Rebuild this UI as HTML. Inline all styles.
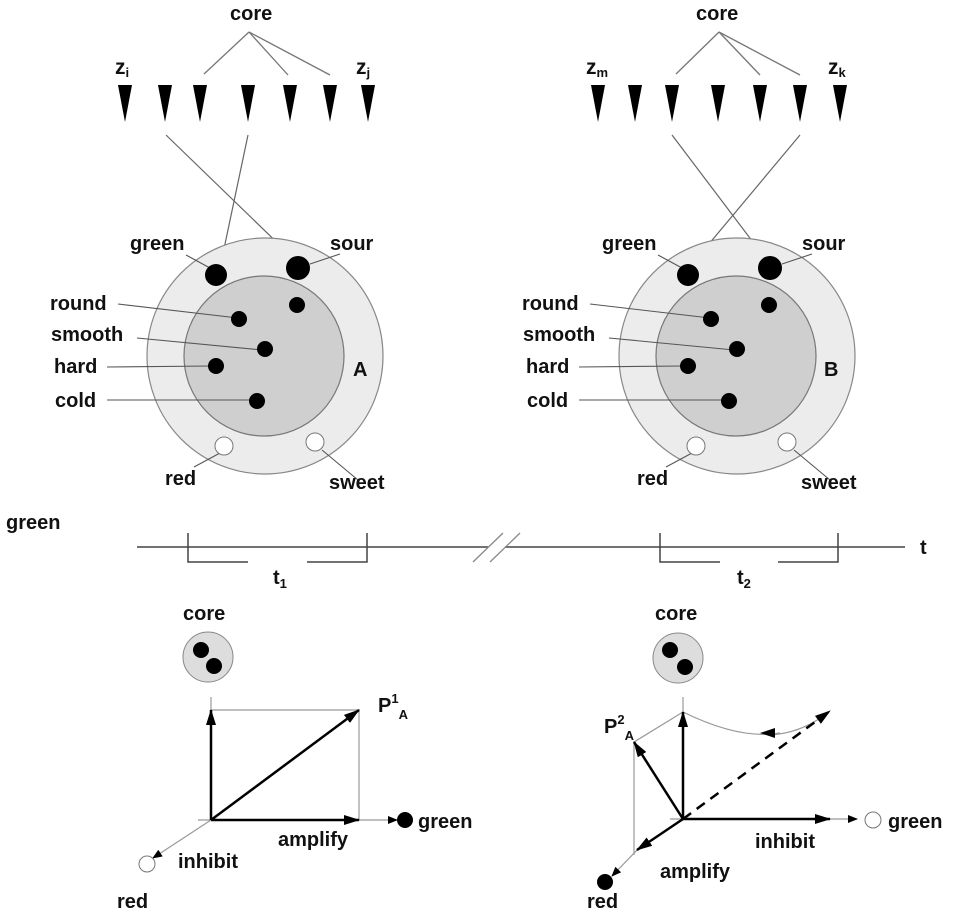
<!DOCTYPE html>
<html><head><meta charset="utf-8"><style>
html,body{margin:0;padding:0;background:#fff}
svg text{font-family:"Liberation Sans",sans-serif;font-weight:bold;fill:#111}
</style></head><body>
<svg width="957" height="916" viewBox="0 0 957 916" xmlns="http://www.w3.org/2000/svg">
<defs>
<marker id="ab" markerWidth="10" markerHeight="8" refX="9" refY="4" orient="auto" markerUnits="userSpaceOnUse" viewBox="0 0 10 8"><path d="M0,0 L10,4 L0,8 Z" fill="#000"/></marker>
<marker id="abl" markerWidth="16" markerHeight="10" refX="15" refY="5" orient="auto" markerUnits="userSpaceOnUse" viewBox="0 0 16 10"><path d="M0,0 L16,5 L0,10 Z" fill="#000"/></marker>
</defs>
<g id="L">
<!-- top -->
<text x="230" y="20" font-size="20">core</text>
<g stroke="#777" stroke-width="1.3" fill="none">
<line x1="249" y1="32" x2="204" y2="74"/><line x1="249" y1="32" x2="288" y2="75"/><line x1="249" y1="32" x2="330" y2="75"/>
</g>
<g fill="#000">
<polygon points="118,85 132,85 125,122"/><polygon points="158,85 172,85 165,122"/><polygon points="193,85 207,85 200,122"/><polygon points="241,85 255,85 248,122"/><polygon points="283,85 297,85 290,122"/><polygon points="323,85 337,85 330,122"/><polygon points="361,85 375,85 368,122"/>
</g>
<text x="115" y="74" font-size="21">z<tspan font-size="13" dy="3">i</tspan></text>
<text x="356" y="74" font-size="21">z<tspan font-size="13" dy="3">j</tspan></text>
<g stroke="#666" stroke-width="1.2">
<line x1="166" y1="135" x2="293" y2="258"/><line x1="248" y1="135" x2="221" y2="263"/>
</g>
<circle cx="265" cy="356" r="118" fill="#ececec" stroke="#888" stroke-width="1.2"/>
<circle cx="264" cy="356" r="80" fill="#cfcfcf" stroke="#777" stroke-width="1.2"/>
<g stroke="#555" stroke-width="1.1">
<line x1="186" y1="255" x2="210" y2="268"/><line x1="310" y1="264" x2="340" y2="254"/>
<line x1="118" y1="304" x2="238" y2="318"/><line x1="137" y1="338" x2="262" y2="350"/>
<line x1="107" y1="367" x2="212" y2="366"/><line x1="107" y1="400" x2="252" y2="400"/>
<line x1="194" y1="467" x2="220" y2="453"/><line x1="358" y1="480" x2="322" y2="450"/>
</g>
<circle cx="216" cy="275" r="11" fill="#000"/><circle cx="298" cy="268" r="12" fill="#000"/>
<circle cx="297" cy="305" r="8" fill="#000"/><circle cx="239" cy="319" r="8" fill="#000"/>
<circle cx="265" cy="349" r="8" fill="#000"/><circle cx="216" cy="366" r="8" fill="#000"/>
<circle cx="257" cy="401" r="8" fill="#000"/>
<circle cx="224" cy="446" r="9" fill="#fff" stroke="#777"/><circle cx="315" cy="442" r="9" fill="#fff" stroke="#777"/>
<text x="130" y="250" font-size="20">green</text><text x="330" y="250" font-size="20">sour</text>
<text x="50" y="310" font-size="20">round</text><text x="51" y="341" font-size="20">smooth</text>
<text x="54" y="373" font-size="20">hard</text><text x="55" y="407" font-size="20">cold</text>
<text x="165" y="485" font-size="20">red</text><text x="329" y="489" font-size="20">sweet</text>
</g>
<text x="353" y="376" font-size="20">A</text>
<!-- right top -->
<text x="696" y="20" font-size="20">core</text>
<g stroke="#777" stroke-width="1.3" fill="none">
<line x1="719" y1="32" x2="676" y2="74"/><line x1="719" y1="32" x2="760" y2="75"/><line x1="719" y1="32" x2="800" y2="75"/>
</g>
<g fill="#000">
<polygon points="591,85 605,85 598,122"/><polygon points="628,85 642,85 635,122"/><polygon points="665,85 679,85 672,122"/><polygon points="711,85 725,85 718,122"/><polygon points="753,85 767,85 760,122"/><polygon points="793,85 807,85 800,122"/><polygon points="833,85 847,85 840,122"/>
</g>
<text x="586" y="74" font-size="21">z<tspan font-size="13" dy="3">m</tspan></text>
<text x="828" y="74" font-size="21">z<tspan font-size="13" dy="3">k</tspan></text>
<g stroke="#666" stroke-width="1.2">
<line x1="672" y1="135" x2="765" y2="258"/><line x1="800" y1="135" x2="693" y2="263"/>
</g>
<g transform="translate(472,0)">
<circle cx="265" cy="356" r="118" fill="#ececec" stroke="#888" stroke-width="1.2"/>
<circle cx="264" cy="356" r="80" fill="#cfcfcf" stroke="#777" stroke-width="1.2"/>
<g stroke="#555" stroke-width="1.1">
<line x1="186" y1="255" x2="210" y2="268"/><line x1="310" y1="264" x2="340" y2="254"/>
<line x1="118" y1="304" x2="238" y2="318"/><line x1="137" y1="338" x2="262" y2="350"/>
<line x1="107" y1="367" x2="212" y2="366"/><line x1="107" y1="400" x2="252" y2="400"/>
<line x1="194" y1="467" x2="220" y2="453"/><line x1="358" y1="480" x2="322" y2="450"/>
</g>
<circle cx="216" cy="275" r="11" fill="#000"/><circle cx="298" cy="268" r="12" fill="#000"/>
<circle cx="297" cy="305" r="8" fill="#000"/><circle cx="239" cy="319" r="8" fill="#000"/>
<circle cx="265" cy="349" r="8" fill="#000"/><circle cx="216" cy="366" r="8" fill="#000"/>
<circle cx="257" cy="401" r="8" fill="#000"/>
<circle cx="224" cy="446" r="9" fill="#fff" stroke="#777"/><circle cx="315" cy="442" r="9" fill="#fff" stroke="#777"/>
<text x="130" y="250" font-size="20">green</text><text x="330" y="250" font-size="20">sour</text>
<text x="50" y="310" font-size="20">round</text><text x="51" y="341" font-size="20">smooth</text>
<text x="54" y="373" font-size="20">hard</text><text x="55" y="407" font-size="20">cold</text>
<text x="165" y="485" font-size="20">red</text><text x="329" y="489" font-size="20">sweet</text>
<text x="352" y="376" font-size="20">B</text>
</g>
<!-- timeline -->
<text x="6" y="529" font-size="20">green</text>
<g stroke="#444" stroke-width="1.5" fill="none">
<line x1="137" y1="547" x2="488" y2="547"/><line x1="505" y1="547" x2="905" y2="547"/>
<polyline points="188,533 188,562 248,562"/><polyline points="307,562 367,562 367,533"/>
<polyline points="660,533 660,562 720,562"/><polyline points="778,562 838,562 838,533"/>
</g>
<g stroke="#888" stroke-width="1.3"><line x1="473" y1="562" x2="503" y2="533"/><line x1="490" y1="562" x2="520" y2="533"/></g>
<text x="920" y="554" font-size="20">t</text>
<text x="273" y="584" font-size="20">t<tspan font-size="13" dy="4">1</tspan></text>
<text x="737" y="584" font-size="20">t<tspan font-size="13" dy="4">2</tspan></text>
<!-- bottom left -->
<text x="183" y="620" font-size="20">core</text>
<circle cx="208" cy="657" r="25" fill="#ddd" stroke="#888"/>
<circle cx="201" cy="650" r="8" fill="#000"/><circle cx="214" cy="666" r="8" fill="#000"/>
<g stroke="#999" stroke-width="1.2" fill="none">
<polyline points="211,697 211,710 359,710 359,820"/>
<line x1="198" y1="820" x2="397" y2="820" marker-end="url(#ab)"/>
<line x1="211" y1="820" x2="153" y2="858" marker-end="url(#ab)"/>
</g>
<g stroke="#000" stroke-width="2.5">
<line x1="211" y1="820" x2="211" y2="710" marker-end="url(#abl)"/>
<line x1="211" y1="820" x2="359" y2="820" marker-end="url(#abl)"/>
<line x1="211" y1="820" x2="359" y2="710" marker-end="url(#abl)"/>
</g>
<circle cx="405" cy="820" r="8" fill="#000"/>
<circle cx="147" cy="864" r="8" fill="#fff" stroke="#777"/>
<text x="418" y="828" font-size="20">green</text>
<text x="278" y="846" font-size="20">amplify</text>
<text x="178" y="868" font-size="20">inhibit</text>
<text x="117" y="908" font-size="20">red</text>
<text x="378" y="712" font-size="20">P<tspan font-size="13" dy="-9">1</tspan><tspan font-size="13" dy="16">A</tspan></text>
<!-- bottom right -->
<text x="655" y="620" font-size="20">core</text>
<circle cx="678" cy="658" r="25" fill="#ddd" stroke="#888"/>
<circle cx="670" cy="650" r="8" fill="#000"/><circle cx="685" cy="667" r="8" fill="#000"/>
<g stroke="#999" stroke-width="1.2" fill="none">
<line x1="683" y1="697" x2="683" y2="712"/>
<polyline points="683,712 634,742 634,855"/>
<path d="M683,712 Q740,740 780,733" />
<path d="M770,735 Q800,733 823,716"/>
<line x1="670" y1="819" x2="857" y2="819" marker-end="url(#ab)"/>
<line x1="640" y1="847" x2="612" y2="876" marker-end="url(#ab)"/>
</g>
<polygon points="760,733 775,728 775,738" fill="#000"/>
<g stroke="#000" stroke-width="2.5">
<line x1="683" y1="819" x2="683" y2="712" marker-end="url(#abl)"/>
<line x1="683" y1="819" x2="830" y2="819" marker-end="url(#abl)"/>
<line x1="683" y1="819" x2="634" y2="742" marker-end="url(#abl)"/>
<line x1="683" y1="819" x2="637" y2="850" marker-end="url(#abl)"/>
<line x1="683" y1="819" x2="830" y2="711" stroke-dasharray="10,7" marker-end="url(#abl)"/>
</g>
<circle cx="873" cy="820" r="8" fill="#fff" stroke="#777"/>
<circle cx="605" cy="882" r="8" fill="#000"/>
<text x="888" y="828" font-size="20">green</text>
<text x="755" y="848" font-size="20">inhibit</text>
<text x="660" y="878" font-size="20">amplify</text>
<text x="587" y="908" font-size="20">red</text>
<text x="604" y="733" font-size="20">P<tspan font-size="13" dy="-9">2</tspan><tspan font-size="13" dy="16">A</tspan></text>
</svg>
</body></html>
